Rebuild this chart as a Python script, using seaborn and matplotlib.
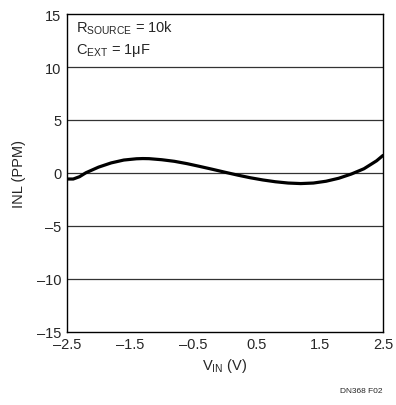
import numpy as np
import pandas as pd
import matplotlib; matplotlib.use("Agg")
import matplotlib.pyplot as plt
import seaborn as sns

# ── Data ──────────────────────────────────────────────────────────────────
vin = [-2.5, -2.4, -2.3, -2.2, -2.0, -1.8, -1.6, -1.4, -1.3, -1.2, -1.0,
       -0.8, -0.6, -0.4, -0.2, 0.0, 0.2, 0.4, 0.6, 0.8, 1.0, 1.2, 1.4,
       1.6, 1.8, 2.0, 2.2, 2.4, 2.5]
inl = [-0.57, -0.57, -0.35, 0.02, 0.55, 0.95, 1.22, 1.34, 1.36, 1.35, 1.25,
       1.10, 0.88, 0.62, 0.35, 0.07, -0.20, -0.45, -0.66, -0.83, -0.95, -1.00, -0.95,
       -0.78, -0.50, -0.10, 0.40, 1.15, 1.65]
x_ticks = [-2.5, -1.5, -0.5, 0.5, 1.5, 2.5]
y_ticks = [-15, -10, -5, 0, 5, 10, 15]

df = pd.DataFrame({"VIN": vin, "INL": inl})

sns.set_theme(style="white")
FONT = ["Liberation Sans Narrow", "Liberation Sans", "DejaVu Sans"]
plt.rcParams["font.family"] = FONT
plt.rcParams["mathtext.fontset"] = "custom"
plt.rcParams["mathtext.rm"] = "Liberation Sans Narrow"
plt.rcParams["mathtext.it"] = "Liberation Sans Narrow"

fig = plt.figure(figsize=(3.96, 4.06), dpi=100)
ax = fig.add_axes([0.169, 0.180, 0.798, 0.783])

for y in y_ticks[1:-1]:
    ax.axhline(y, color="#333333", lw=0.9, zorder=1)

sns.lineplot(data=df, x="VIN", y="INL", color="black", lw=2.3, ax=ax, zorder=3)

ax.set_xlim(-2.5, 2.5)
ax.set_ylim(-15, 15)
ax.set_xticks(x_ticks)
ax.set_yticks(y_ticks)
ax.set_xticklabels([f"{t:.1f}".replace("-", "\u2013") for t in x_ticks], fontsize=10.5)
ax.set_yticklabels([str(t).replace("-", "\u2013") for t in y_ticks], fontsize=10.5)
ax.tick_params(length=0, pad=4)
for s in ax.spines.values():
    s.set_color("black")
    s.set_linewidth(1.0)

ax.set_xlabel(r"V$_{\mathregular{IN}}$ (V)", fontsize=10.5, labelpad=3)
ax.set_ylabel("INL (PPM)", fontsize=10.5, labelpad=8)

ax.text(0.03, 0.985, r"R$_{\mathregular{SOURCE}}$ = 10k", transform=ax.transAxes,
        fontsize=10.5, va="top", ha="left")
ax.text(0.03, 0.915, r"C$_{\mathregular{EXT}}$ = 1$\mathregular{\mu}$F", transform=ax.transAxes,
        fontsize=10.5, va="top", ha="left")

fig.text(0.967, 0.028, "DN368 F02", fontsize=6, ha="right", va="bottom")

fig.savefig("out.png", dpi=100)
